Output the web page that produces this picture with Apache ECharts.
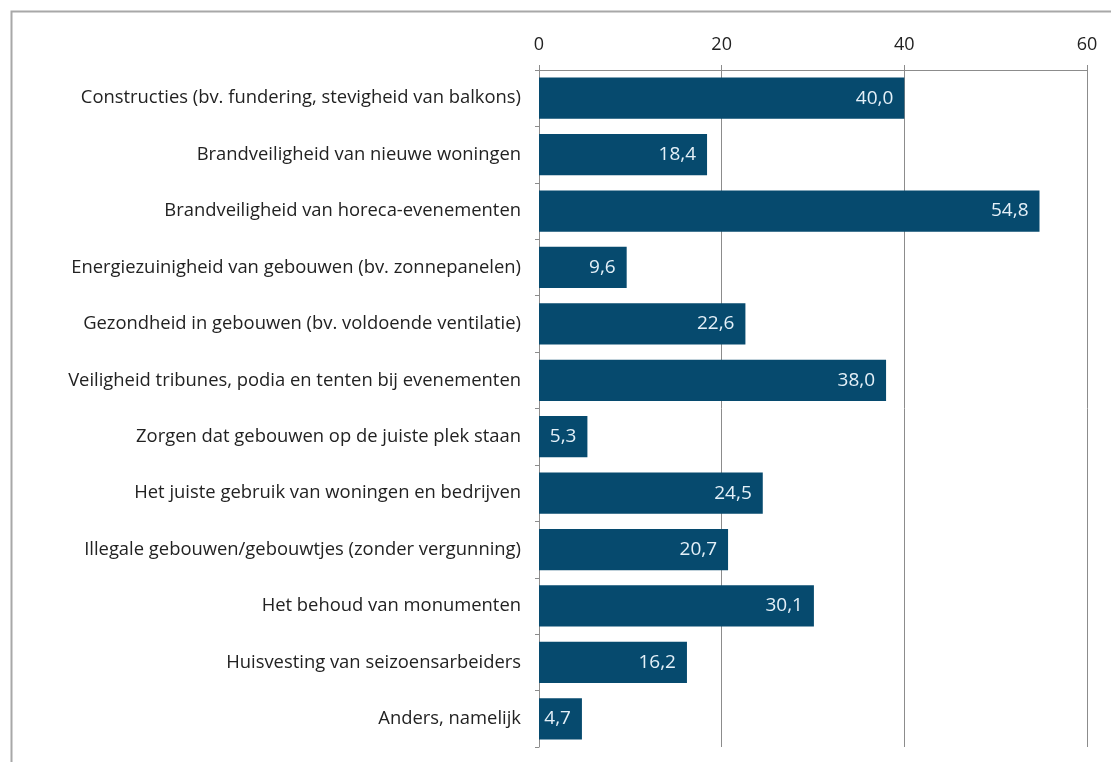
<!DOCTYPE html>
<html><head><meta charset="utf-8">
<script src="https://cdn.jsdelivr.net/npm/echarts@6/dist/echarts.min.js"></script>
<style>html,body{margin:0;padding:0;background:#fff}#c{width:1111px;height:762px}</style>
</head><body><div id="c"></div>
<script>
const categories = [
  "Constructies (bv. fundering, stevigheid van balkons)",
  "Brandveiligheid van nieuwe woningen",
  "Brandveiligheid van horeca-evenementen",
  "Energiezuinigheid van gebouwen (bv. zonnepanelen)",
  "Gezondheid in gebouwen (bv. voldoende ventilatie)",
  "Veiligheid tribunes, podia en tenten bij evenementen",
  "Zorgen dat gebouwen op de juiste plek staan",
  "Het juiste gebruik van woningen en bedrijven",
  "Illegale gebouwen/gebouwtjes (zonder vergunning)",
  "Het behoud van monumenten",
  "Huisvesting van seizoensarbeiders",
  "Anders, namelijk"
];
const values = [40.0, 18.4, 54.8, 9.6, 22.6, 38.0, 5.3, 24.5, 20.7, 30.1, 16.2, 4.7];
const xTicks = [0, 20, 40, 60];

const chart = echarts.init(document.getElementById('c'));
chart.setOption({
  animation: false,
  textStyle: { fontFamily: 'Open Sans' },
  graphic: [{
    type: 'rect', left: 9, top: 9, silent: true,
    shape: { width: 1200, height: 800 },
    style: { fill: 'none', stroke: '#a8a8a8', lineWidth: 2 }
  }],
  grid: { left: 539, top: 70, right: 24, bottom: 15 },
  xAxis: {
    type: 'value', position: 'top', min: xTicks[0], max: xTicks[xTicks.length - 1], interval: 20,
    axisLine: { show: true, lineStyle: { color: '#8c8c8c', width: 1 } },
    axisTick: { show: true, length: 5, lineStyle: { color: '#8c8c8c' } },
    splitLine: { show: true, lineStyle: { color: '#8c8c8c', width: 1 } },
    axisLabel: { color: '#222', fontSize: 18, margin: 16 }
  },
  yAxis: {
    type: 'category', data: categories, inverse: true,
    axisLine: { show: true, lineStyle: { color: '#8c8c8c' } },
    axisTick: { show: true, length: 4, lineStyle: { color: '#8c8c8c' } },
    axisLabel: { color: '#222', fontSize: 18.4, margin: 18 }
  },
  series: [{
    type: 'bar', data: values, barCategoryGap: '27%',
    itemStyle: { color: '#064a6e' },
    label: {
      show: true, position: 'insideRight', distance: 11,
      color: '#e4f0f8', fontSize: 19,
      formatter: p => p.value.toFixed(1).replace('.', ',')
    }
  }]
});
</script></body></html>
